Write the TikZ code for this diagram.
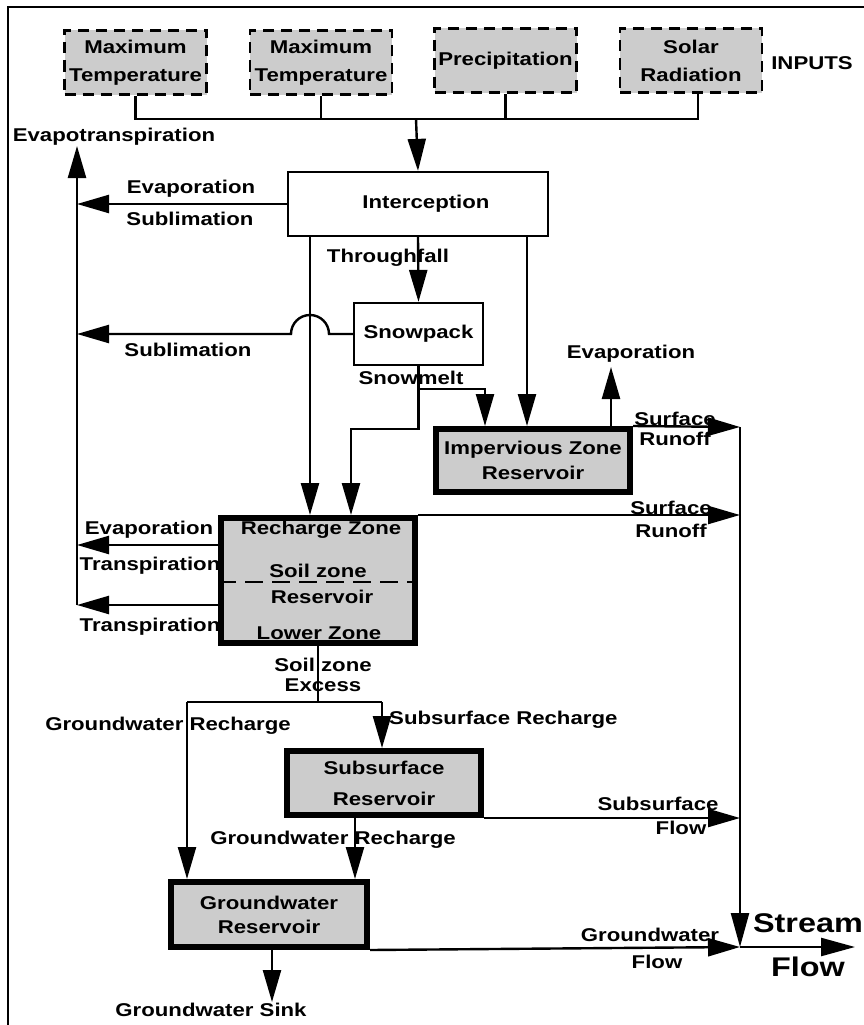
\documentclass[tikz,border=0pt]{standalone}
\usepackage{fontspec}
\setmainfont{Liberation Sans}[FakeStretch=1.2]
\usetikzlibrary{arrows.meta, positioning, calc}

\tikzset{
  inbox/.style={draw, dash pattern=on 11pt off 7pt, line width=2.6pt, fill=black!20,
    minimum width=142pt, minimum height=64pt, align=center, inner sep=0pt},
  proc/.style={draw, line width=2.2pt, fill=white, align=center, inner sep=0pt},
  store/.style={draw, line width=6pt, fill=black!20, align=center, inner sep=0pt},
  lbl/.style={inner sep=0pt, align=center},
  pipe/.style={line width=2.4pt},
  flow/.style={line width=2.4pt, -{Triangle[length=32pt,width=18pt]}},
  bigflow/.style={line width=2.4pt, -{Triangle[length=34pt,width=18pt]}},
}

\begin{document}
\begin{tikzpicture}[x=1pt, y=-1pt, font=\bfseries\fontsize{18.5}{21}\selectfont]
\useasboundingbox (0,0) rectangle (863,1025);
% frame (runs off the page on the right and bottom)
\draw[line width=2pt] (8,1060) -- (8,7) -- (900,7);

% inputs
\node[inbox] (tmax1) at (135.5,62.5) {Maximum\\[7pt]Temperature};
\node[inbox] (tmax2) at (321,62.5) {Maximum\\[7pt]Temperature};
\node[inbox] (precip) at (505.5,60.5) {Precipitation};
\node[inbox] (solar) at (691,60.5) {Solar\\[7pt]Radiation};
\node[lbl] (inputs) at (812,63) {INPUTS};

\coordinate (bus) at (416,119);
\draw[pipe] (tmax1.south) |- (bus) -| ([xshift=7pt]solar.south);
\draw[pipe] (tmax2.south) -- (tmax2.south |- bus);
\draw[pipe] (precip.south) -- (precip.south |- bus);

% storages
\node[proc, minimum width=260pt, minimum height=64pt] (icpt) at (418,204) {\hspace*{16pt}Interception};
\node[proc, minimum width=129pt, minimum height=62pt] (snow) at (418.5,334) {Snowpack};
\node[store, minimum width=194pt, minimum height=63pt] (imperv) at (533,460.5) {Impervious Zone\\[4pt]Reservoir};
\node[store, minimum width=194pt, minimum height=125pt] (soil) at (318,580.5) {};
\node[store, minimum width=194pt, minimum height=64pt] (subsrf) at (384,783) {Subsurface\\[10pt]Reservoir};
\node[store, minimum width=196pt, minimum height=65pt] (gwres) at (269,914.5) {Groundwater\\[3pt]Reservoir};

\draw[line width=2pt, dash pattern=on 18pt off 9pt] (soil.west |- 0,582) -- (soil.east |- 0,582);
\node[lbl] (rzone) at (321,530) {Recharge Zone};
\node[lbl] (szone) at (318,571) {Soil zone};
\node[lbl] (sres) at (322,597) {Reservoir};
\node[lbl] (lzone) at (319,633) {Lower Zone};

% inputs to interception
\draw[flow] (bus) -- (icpt.north);

% evapotranspiration collector
\coordinate (et) at (77,146);
\coordinate (etbot) at (77,605);
\draw[flow] (etbot) -- (et);
\node[lbl] (etlbl) at (114,137) {Evapotranspiration};

\draw[flow] (icpt.west) -- (et |- icpt.west);
\node[lbl] (evap1) at (191,189) {Evaporation};
\node[lbl] (subl1) at (190,219) {Sublimation};

% interception drains
\coordinate (icl) at (310,237);
\coordinate (icr) at (527,237);
\draw[flow] (icl) -- (icl |- soil.north);
\draw[flow] (icr) -- (icr |- imperv.north);
\draw[flow] (icpt.south) -- (snow.north);
\node[lbl] (thru) at (388,258) {Throughfall};

% sublimation from snowpack, hopping over the drain
\coordinate (hop) at (icl |- snow.west);
\draw[flow] (snow.west) -- ([xshift=19pt]hop) arc[start angle=0, end angle=180, radius=19pt] -- (et |- snow.west);
\node[lbl] (subl2) at (188,350) {Sublimation};

% snowmelt
\coordinate (melt1) at (485,389);
\coordinate (melt2) at (351,429);
\draw[flow] (snow.south) |- (melt2) -- (melt2 |- soil.north);
\draw[flow] (snow.south |- melt1) -- (melt1) -- (melt1 |- imperv.north);
\node[lbl] (melt) at (411,378) {Snowmelt};

% impervious zone
\coordinate (ievap) at (611,367);
\draw[flow] (ievap |- imperv.north) -- (ievap);
\node[lbl] (evap2) at (631,354) {Evaporation};

% stream
\coordinate (strtop) at (740,427);
\coordinate (strout) at (740,947);
\coordinate (strend) at (855,947);
\draw[bigflow] (strtop) -- (strout);
\draw[bigflow] (strout) -- (strend);
\node[lbl, font=\bfseries\fontsize{27}{30}\selectfont] (stream) at (808,923) {Stream};
\node[lbl, font=\bfseries\fontsize{27}{30}\selectfont] (sflow) at (808,967) {Flow};

\draw[flow] (imperv.north east) -- (strtop);
\node[lbl] (runoff1) at (675,429) {Surface\\[-1pt]Runoff};
\draw[flow] (soil.north east) -- (soil.north east -| strtop);
\node[lbl] (runoff2) at (671,519.5) {Surface\\[2pt]Runoff};

% soil zone losses
\draw[flow] (soil.west |- 0,545) -- (et |- 0,545);
\node[lbl] (evap3) at (149,530) {Evaporation};
\node[lbl] (transp1) at (150,566) {Transpiration};
\draw[flow] (soil.west |- etbot) -- (etbot);
\node[lbl] (transp2) at (150,627) {Transpiration};

% soil zone excess
\coordinate (xs) at (318,702);
\coordinate (xsl) at (187,702);
\coordinate (xsr) at (382,702);
\draw[pipe] (soil.south) -- (xs);
\draw[pipe] (xsl) -- (xsr);
\node[lbl] (excess) at (323,675) {Soil zone\\[-1pt]Excess};
\draw[flow] (xsr) -- (xsr |- subsrf.north);
\node[lbl, anchor=west] (ssrech) at (389,720) {Subsurface Recharge};
\draw[flow] (xsl) -- (xsl |- gwres.north);
\node[lbl] (gwrech1) at (168,726) {Groundwater Recharge};

% subsurface reservoir
\coordinate (sg) at (355,818);
\draw[flow] (sg |- subsrf.south) -- (sg |- gwres.north);
\node[lbl] (gwrech2) at (333,840) {Groundwater Recharge};
\draw[flow] (subsrf.south east) -- (subsrf.south east -| strtop);
\node[lbl] (ssflow1) at (658,804) {Subsurface};
\node[lbl] (ssflow2) at (681,828) {Flow};

% groundwater reservoir
\draw[flow] (gwres.south east) -- (strout);
\node[lbl] (gwflow1) at (650,935) {Groundwater};
\node[lbl] (gwflow2) at (657,962) {Flow};
\coordinate (sink) at (272,1002);
\draw[flow] (sink |- gwres.south) -- (sink);
\node[lbl] (gwsink) at (211,1010) {Groundwater Sink};
\end{tikzpicture}
\end{document}
